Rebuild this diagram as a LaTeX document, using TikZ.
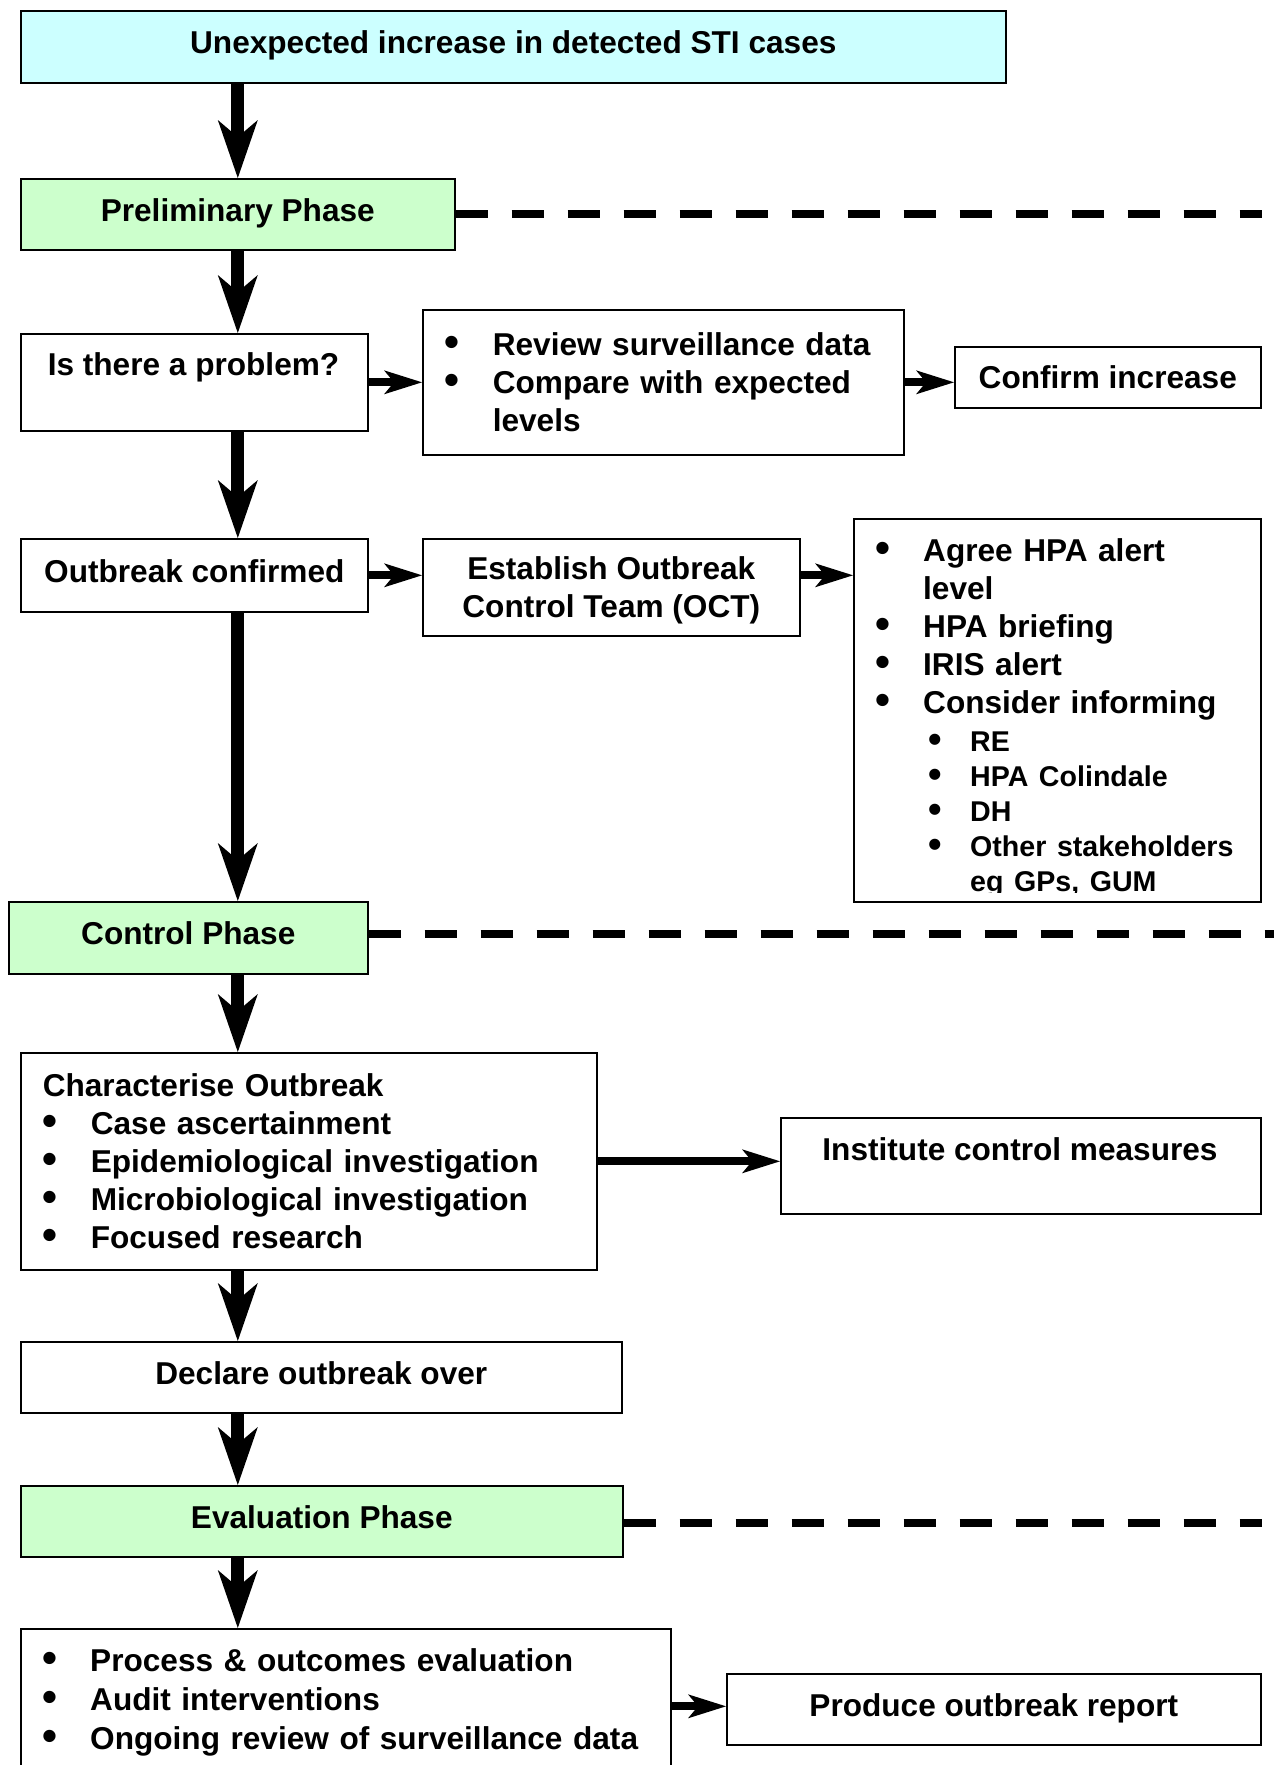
\documentclass[tikz,border=0pt]{standalone}
\usepackage{fontspec}
\setmainfont{Liberation Sans}
\usepackage{graphicx}
\usetikzlibrary{arrows.meta,positioning}

\definecolor{topcyan}{HTML}{CCFFFF}
\definecolor{phasegreen}{HTML}{CCFFCC}

\newcommand{\bull}{\raisebox{-1pt}{\scalebox{1.35}{\textbullet}}}
\newcommand{\itm}[1]{\makebox[48pt][l]{\bull}#1}
\newcommand{\subfnt}{\fontsize{28.6}{35}\selectfont}
\newcommand{\subitm}[1]{{\subfnt\hspace*{53pt}\makebox[42pt][l]{\bull}#1}}

\tikzset{
  box/.style={draw, line width=1.6pt, anchor=north west, inner xsep=22pt, inner ysep=0pt,
    font=\bfseries\fontsize{31.6}{38}\selectfont},
  oneline/.style={box, text height=23pt, text depth=9pt},
  phase/.style={oneline, fill=phasegreen},
  lbl/.style={inner sep=0pt, font=\bfseries\fontsize{31.6}{38}\selectfont},
  vflow/.style={line width=13pt, -{Stealth[length=58pt,width=40pt,inset=17pt,line width=0pt]}},
  hflow/.style={line width=8pt, -{Stealth[length=38pt,width=24pt,inset=10pt,line width=0pt]}},
  phaseline/.style={line width=8pt, dash pattern=on 32pt off 24pt},
}

\begin{document}
\begin{tikzpicture}[x=1pt,y=-1pt]
  \useasboundingbox (0,0) rectangle (1274,1765) ;
  \clip (0,0) rectangle (1274,1765) ;

  % boxes
  \node[oneline, fill=topcyan, minimum width=985pt, minimum height=72pt] (top) at (20,10)
    {Unexpected increase in detected STI cases} ;
  \node[phase, minimum width=434pt, minimum height=71pt] (prelim) at (20,178) {Preliminary Phase} ;
  \node[box, minimum width=347pt, minimum height=97pt] (isprob) at (20,333) {} ;
  \node[lbl, anchor=base] (isprobtxt) at (193.5,375) {Is there a problem?} ;
  \node[box, text width=437pt, align=left, minimum height=145pt] (review) at (422,309)
    {\itm{Review surveillance data}\\ \itm{Compare with expected}\\ \hspace*{48pt}levels} ;
  \node[box, minimum width=306pt, minimum height=61pt] (confirm) at (954,346) {Confirm increase} ;

  \node[oneline, minimum width=347pt, minimum height=73pt] (outconf) at (20,538) {Outbreak confirmed} ;
  \node[box, align=center, text depth=0pt, minimum width=377pt, minimum height=97pt] (establish) at (422,538)
    {Establish Outbreak\\ Control Team (OCT)} ;
  \node[box, minimum width=407pt, minimum height=383pt] (agree) at (853,518) {} ;
  \begin{scope}
    \clip (agree.north west) rectangle ([yshift=10pt]agree.south east) ;
    \node[lbl, anchor=north west, text width=370pt, align=left] (agreetxt) at (875,538)
      {\itm{Agree HPA alert}\\ \hspace*{48pt}level\\ \itm{HPA briefing}\\ \itm{IRIS alert}\\
       \itm{Consider informing}\\ \subitm{RE}\\[-3pt] \subitm{HPA Colindale}\\[-3pt]
       \subitm{DH}\\[-3pt] \subitm{Other stakeholders}\\[-3pt]
       {\subfnt\hspace*{95pt}eg GPs, GUM}} ;
  \end{scope}

  \node[phase, minimum width=359pt, minimum height=72pt] (control) at (8,901) {Control Phase} ;
  \node[box, text width=532pt, align=left, minimum height=217pt] (charact) at (20,1052)
    {Characterise Outbreak\\ \itm{Case ascertainment}\\ \itm{Epidemiological investigation}\\
     \itm{Microbiological investigation}\\ \itm{Focused research}} ;
  \node[box, minimum width=480pt, minimum height=96pt] (institute) at (780,1117) {} ;
  \node[lbl, anchor=base] (institutetxt) at (1020,1160) {Institute control measures} ;
  \node[oneline, minimum width=601pt, minimum height=71pt] (declare) at (20,1341) {Declare outbreak over} ;

  \node[phase, minimum width=602pt, minimum height=71pt] (evaluation) at (20,1485) {Evaluation Phase} ;
  \node[box, minimum width=650pt, minimum height=162pt] (process) at (20,1628) {} ;
  \node[lbl, anchor=north west, text width=640pt, align=left] (processtxt) at (42,1648)
    {\itm{Process \& outcomes evaluation}\\[1pt] \itm{Audit interventions}\\[1pt]
     \itm{Ongoing review of surveillance data}} ;
  \node[oneline, minimum width=534pt, minimum height=71pt] (produce) at (726,1673) {Produce outbreak report} ;

  % phase separators
  \coordinate (rim) at (1262,0) ;
  \coordinate (edge) at (1274,0) ;
  \draw[phaseline] (prelim.east) -- (prelim.east -| rim) ;
  \draw[phaseline] ([yshift=4pt]control.east) -- ([yshift=4pt]control.east -| edge) ;
  \draw[phaseline] ([yshift=-2pt]evaluation.east) -- ([yshift=-2pt]evaluation.east -| rim) ;

  % main flow
  \draw[vflow] (top.south -| prelim) -- (prelim.north) ;
  \draw[vflow] (prelim.south) -- (prelim.south |- isprob.north) ;
  \draw[vflow] (prelim.south |- isprob.south) -- (prelim.south |- outconf.north) ;
  \draw[vflow] (prelim.south |- outconf.south) -- (prelim.south |- control.north) ;
  \draw[vflow] (prelim.south |- control.south) -- (prelim.south |- charact.north) ;
  \draw[vflow] (prelim.south |- charact.south) -- (prelim.south |- declare.north) ;
  \draw[vflow] (prelim.south |- declare.south) -- (prelim.south |- evaluation.north) ;
  \draw[vflow] (prelim.south |- evaluation.south) -- (prelim.south |- process.north) ;

  % side steps
  \draw[hflow] (isprob.east) -- (isprob.east -| review.west) ;
  \draw[hflow] (review.east |- isprob.east) -- (isprob.east -| confirm.west) ;
  \draw[hflow] (outconf.east) -- (outconf.east -| establish.west) ;
  \draw[hflow] (establish.east |- outconf.east) -- (outconf.east -| agree.west) ;
  \draw[hflow] (charact.east) -- (charact.east -| institute.west) ;
  \draw[hflow] ([yshift=3pt]produce.west -| process.east) -- ([yshift=3pt]produce.west) ;
\end{tikzpicture}
\end{document}
